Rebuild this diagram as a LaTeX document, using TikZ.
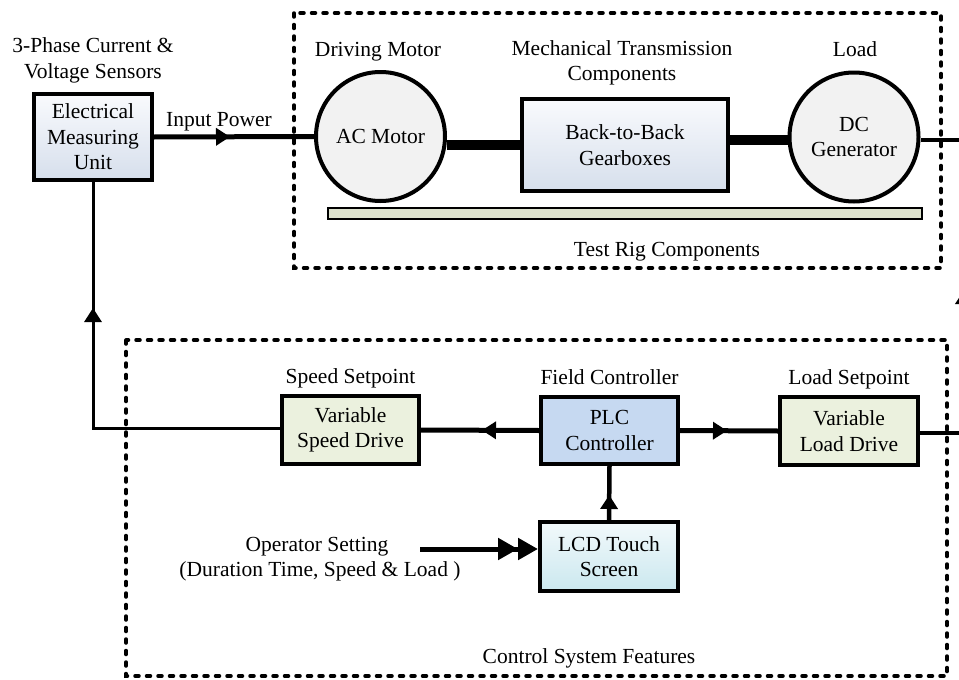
\documentclass[tikz,border=0pt]{standalone}
\usepackage{fontspec}
\setmainfont{Liberation Serif}
\usetikzlibrary{arrows.meta,decorations.markings,calc}
\definecolor{circfill}{RGB}{242,242,242}
\definecolor{drivefill}{RGB}{235,241,222}
\definecolor{plcfill}{RGB}{198,217,241}
\definecolor{barfill}{RGB}{221,226,205}
\definecolor{gradtop}{RGB}{249,250,253}
\definecolor{gradbot}{RGB}{214,223,236}
\definecolor{lcdtop}{RGB}{242,249,251}
\definecolor{lcdbot}{RGB}{203,232,239}
\begin{document}
\begin{tikzpicture}[x=1pt,y=-1pt,
  every node/.style={font=\fontsize{21.5}{25.5}\selectfont, inner sep=0pt},
  lbl/.style={anchor=base},
  txt/.style={align=center},
  blk/.style={draw, line width=4pt, align=center},
  gradfill/.style={top color=gradtop, bottom color=gradbot},
  circ/.style={circle, draw, line width=4pt, fill=circfill, minimum size=129pt, align=center},
  dashbox/.style={line width=3.5pt, dash pattern=on 4pt off 7.5pt, line cap=round},
  arrowat/.style={postaction={decorate}, decoration={markings, mark=at position #1 with {\arrow{Triangle[length=14pt,width=17pt]}}}}
]
\useasboundingbox (0,0) rectangle (959,680);
\clip (0,0) rectangle (959,680);

% dashed groups
\draw[dashbox] (294,13) rectangle (941,268);
\draw[dashbox] (126,340) rectangle (947,676);

% top row
\node[blk, gradfill, minimum width=118pt, minimum height=86pt] (emu) at (93,137) {Electrical\\Measuring\\Unit};
\node[txt] (sens) at (93,60.5) {3-Phase Current \&\\Voltage Sensors};
\node[lbl] (ip) at (219,126) {Input Power};
\node[circ] (ac) at (380.5,136.5) {AC Motor};
\node[lbl] (dm) at (378,56) {Driving Motor};
\node[txt] (mtc) at (622,63) {Mechanical Transmission\\Components};
\node[blk, gradfill, minimum width=206pt, minimum height=92pt] (gb) at (625,145) {Back-to-Back\\Gearboxes};
\node[lbl] (ld) at (855,56) {Load};
\node[circ] (dc) at (854,137) {DC\\Generator};
\node[draw, line width=1.2pt, fill=barfill, minimum width=594pt, minimum height=11pt] (bar) at (625,213.5) {};
\node[lbl] (trc) at (667,256) {Test Rig Components};

% shafts
\draw[line width=10pt] (ac.east |- gb.west) -- (gb.west);
\draw[line width=10pt] ([yshift=5pt]gb.east) -- ([yshift=5pt]gb.east -| dc.west);

% bottom row
\node[blk, fill=drivefill, minimum width=137pt, minimum height=68pt] (vsd) at (350.5,430) {Variable\\Speed Drive};
\node[blk, fill=plcfill, minimum width=137pt, minimum height=67pt] (plc) at (609.5,430.5) {PLC\\Controller};
\node[blk, fill=drivefill, minimum width=138pt, minimum height=68pt] (vld) at (849,431) {Variable\\Load Drive};
\node[blk, top color=lcdtop, bottom color=lcdbot, minimum width=138pt, minimum height=69pt] (lcd) at (609,556.5) {LCD Touch\\Screen};
\node[lbl] (ss) at (350.5,383) {Speed Setpoint};
\node[lbl] (fc) at (609.5,384) {Field Controller};
\node[lbl] (ls) at (849,384) {Load Setpoint};
\node[lbl] (os1) at (317,551) {Operator Setting};
\node[lbl] (os2) at (320,576) {(Duration Time, Speed \& Load )};
\node[lbl] (csf) at (589,663) {Control System Features};

% connectors
\draw[line width=5pt, arrowat=76pt] (emu.east) -- (ac.west);
\draw[line width=3pt, arrowat=307pt] ([yshift=2pt]vsd.west) -| (emu.south);
\draw[line width=5pt, arrowat=57pt] (plc.west) -- (vsd.east);
\draw[line width=5pt, arrowat=47pt] (plc.east) -- (vld.west);
\draw[line width=4.5pt, arrowat=25pt] (lcd.north) -- (plc.south);
\coordinate (rc) at (964,140);
\draw[line width=3.5pt, arrowat=187pt] ([yshift=-2pt]vld.east) -| (rc) -- (rc -| dc.east);
\coordinate (opin) at (420,549);
\draw[line width=5pt, -{Triangle[length=20pt,width=21pt]Triangle[length=20pt,width=21pt]}] (opin) -- (opin -| lcd.west);
\end{tikzpicture}
\end{document}
